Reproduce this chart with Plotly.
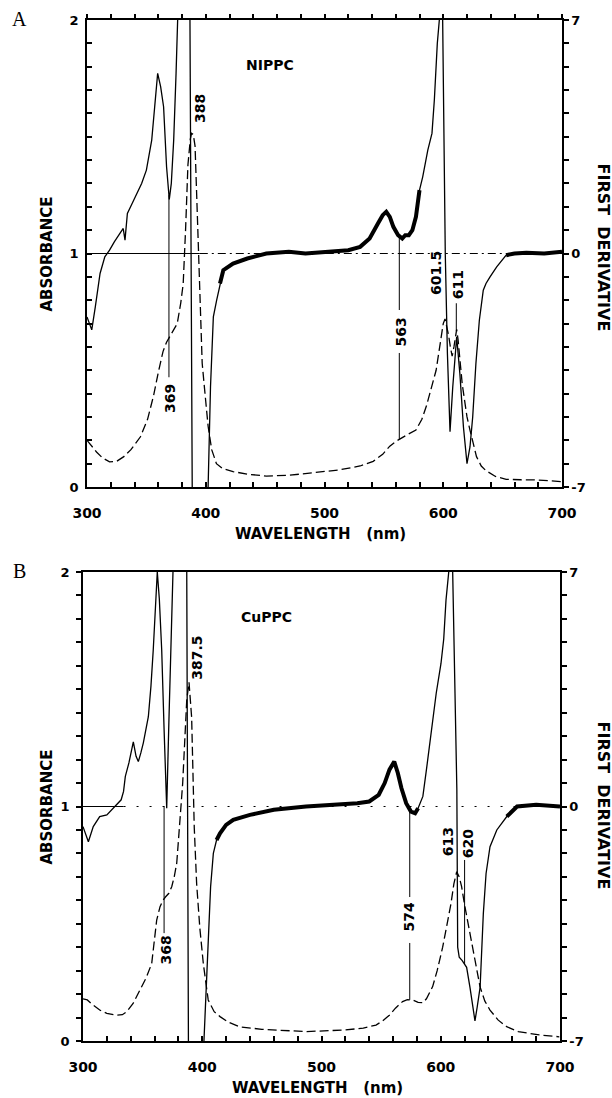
import numpy as np
import plotly.graph_objects as go

W, H = 612, 1098

# ---------------- NiPPC (panel A) ----------------
nippc_abs_nm = [300, 304, 308, 313, 319, 325, 331, 337, 345, 351, 356, 360, 364, 367, 370,
                373, 376, 379, 381, 383, 385, 387, 388, 389.5, 391, 392.5, 394, 395.5, 397,
                399, 402, 405, 409, 414, 423, 435, 451, 470, 490, 512, 530, 541, 549, 555,
                560, 564, 570, 577, 582, 586, 590, 594, 597, 600, 601.5, 603, 604.5, 606,
                607.5, 609, 610.3, 611.3, 612.5, 614, 616, 618, 620, 622.5, 625, 628, 632,
                636, 644, 653, 665, 680, 700]
nippc_abs = [0.20, 0.175, 0.15, 0.125, 0.108, 0.11, 0.13, 0.16, 0.215, 0.29, 0.39, 0.49, 0.58,
             0.62, 0.645, 0.67, 0.70, 0.79, 0.87, 1.10, 1.38, 1.49, 1.515, 1.51, 1.46, 1.23,
             0.96, 0.72, 0.53, 0.42, 0.26, 0.16, 0.10, 0.08, 0.066, 0.055, 0.047, 0.05, 0.06,
             0.073, 0.09, 0.11, 0.14, 0.175, 0.195, 0.208, 0.225, 0.244, 0.29, 0.35, 0.42,
             0.50, 0.60, 0.70, 0.72, 0.69, 0.65, 0.60, 0.56, 0.60, 0.65, 0.675, 0.63, 0.55,
             0.44, 0.37, 0.30, 0.244, 0.19, 0.13, 0.09, 0.07, 0.045, 0.033, 0.031, 0.030, 0.023]

nippc_der_nm = [300, 302, 304, 307, 311, 315, 319, 323, 327, 330.5, 332, 334, 338, 342, 346,
                350, 354.5, 357, 359.5, 362, 364.5, 367, 369.3, 371, 373, 375, 376.4, 378, 385,
                386.7, 388.6, 390, 400, 402, 404, 406.4, 409.2, 412, 414.8, 423, 435, 451, 470,
                484, 500, 520, 530, 538, 545, 549, 552, 555, 558, 562, 565.5, 568, 571, 574,
                577, 580, 582.7, 587, 590.5, 592.5, 595, 596.7, 598, 599.5, 601.7, 603.5, 605.7,
                608, 611.3, 614, 617, 620, 622.5, 624.8, 627.5, 630.4, 633.7, 636, 639.4, 645,
                653, 660, 670, 685, 700]
nippc_der = [-1.9, -2.1, -2.29, -1.6, -0.6, -0.1, 0.1, 0.35, 0.55, 0.75, 0.4, 1.2, 1.5, 1.8, 2.1,
             2.5, 3.4, 4.4, 5.4, 5.0, 4.4, 2.6, 1.62, 2.1, 3.4, 5.4, 7.0, 9.0, 9.0,
             7.0, -7.0, -9.0, -9.0, -7.0, -4.0, -1.9, -1.4, -0.9, -0.5, -0.3, -0.15, 0.0, 0.05,
             0.0, 0.05, 0.1, 0.2, 0.45, 0.9, 1.15, 1.25, 1.1, 0.8, 0.55, 0.45, 0.55, 0.55, 0.7,
             1.1, 1.9, 2.3, 3.1, 3.6, 4.6, 6.3, 7.0, 9.0, 7.0, 0.0, -3.0, -5.34,
             -4.0, -2.5, -3.6, -5.2, -6.3, -5.8, -4.9, -3.3, -2.0, -1.1, -0.9, -0.7, -0.4,
             -0.05, 0.0, 0.02, 0.0, 0.05]

# ---------------- CuPPC (panel B) ----------------
cuppc_abs_nm = [300, 303.6, 308, 314, 320, 328, 333, 336.6, 342, 347.8, 353, 357.6, 360, 361.8,
                364.6, 367, 369.3, 372, 374.4, 376.5, 378.6, 380, 381.3, 383.6, 385.5, 387,
                388.9, 391.1, 393.3, 395.3, 398, 400.9, 405, 410, 414.9, 422, 431.7, 450, 487,
                520, 535, 545.7, 551, 556.9, 562, 568, 572, 576.5, 581, 584.9, 588, 593.2, 597,
                601.6, 605, 608.6, 611, 613.4, 615.5, 617.5, 620, 623, 626, 628.7, 633, 637,
                641.3, 648, 655.3, 665, 682.6, 699.4]
cuppc_abs = [0.18, 0.175, 0.155, 0.132, 0.118, 0.11, 0.112, 0.125, 0.16, 0.217, 0.27, 0.33,
             0.43, 0.516, 0.573, 0.60, 0.615, 0.63, 0.658, 0.70, 0.758, 0.84, 0.942, 1.10, 1.30,
             1.454, 1.53, 1.38, 0.91, 0.67, 0.48, 0.33, 0.175, 0.125, 0.104, 0.08, 0.06, 0.05,
             0.04, 0.047, 0.055, 0.068, 0.085, 0.11, 0.14, 0.168, 0.176, 0.175, 0.165, 0.163,
             0.18, 0.232, 0.30, 0.40, 0.49, 0.587, 0.67, 0.722, 0.70, 0.658, 0.58, 0.50, 0.42,
             0.345, 0.23, 0.17, 0.132, 0.09, 0.061, 0.04, 0.026, 0.018]

cuppc_der_nm = [300, 304.5, 308.6, 314, 320, 327, 332, 334, 335.5, 338.5, 342.2, 344.5, 346.4,
                348.5, 350.6, 354.8, 357, 358.9, 361, 362.3, 364, 366, 368, 370.2, 372, 374,
                375.7, 377, 385, 387, 388.4, 390, 399, 401.5, 403, 405, 407, 409.3, 412, 414.9,
                420, 426, 440, 460, 487, 510, 530, 540, 548, 553, 557, 561, 564, 567, 571, 575,
                578.5, 581, 585, 588, 592, 596.2, 600.2, 602.5, 604.4, 606.7, 608, 609, 610,
                612, 613.5, 614.2, 615.5, 618, 621.7, 624.5, 627, 628.7, 630.5, 633, 635.7, 638,
                641.3, 647, 655.4, 664, 680, 700]
cuppc_der = [-0.6, -1.05, -0.6, -0.3, -0.25, 0.0, 0.2, 0.45, 0.9, 1.3, 1.93, 1.5, 1.34,
             1.6, 1.9, 2.68, 3.6, 4.67, 6.3, 7.0, 6.2, 4.67, 2.3, -0.05, 2.5, 5.0,
             7.0, 9.0, 9.0, 7.0, -7.0, -9.0, -9.0, -7.0, -5.5, -3.9, -2.4, -1.4, -1.0, -0.8,
             -0.55, -0.4, -0.25, -0.1, 0.0, 0.05, 0.1, 0.15, 0.35, 0.7, 1.1, 1.34, 1.0, 0.55, 0.1,
             -0.15, -0.2, -0.05, 0.3, 1.1, 2.2, 3.38, 4.27, 5.0, 6.16, 7.0, 9.0, 9.0, 7.0,
             3.5, 0.5, -4.2, -4.5, -4.6, -4.8, -5.4, -6.1, -6.4, -6.0, -5.4, -3.2, -2.0,
             -1.2, -0.7, -0.3, 0.0, 0.05, 0.0]

# Peak labels (wavelengths in nm)
nippc_peaks = ["369", "388", "563", "601.5", "611"]
cuppc_peaks = ["368", "387.5", "574", "613", "620"]

# Axis ticks: every tick position, labelled only at the listed values
x_tick_pos = list(range(300, 701, 20))
x_tick_labels = {300: "300", 400: "400", 500: "500", 600: "600", 700: "700"}
abs_tick_pos = [round(v, 1) for v in np.arange(0, 2.01, 0.1)]
abs_tick_labels = {0.0: "0", 1.0: "1", 2.0: "2"}
der_tick_pos = [round(v, 1) for v in np.arange(-7, 7.01, 0.7)]
der_tick_labels = {-7.0: "-7", 0.0: "0", 7.0: "7"}

# ---------------- placement / styling ----------------
FONT = "DejaVu Sans"
INK = "black"

# label layout: text x offset (nm), text centre (absorbance units),
# leader segments (ends: number, "der" = derivative curve, "abs" = absorbance curve)
nippc_label_layout = {
    "369": (0.8, 0.381, [("der", 0.47)]),
    "388": (6.6, 1.62, []),
    "563": (1.8, 0.664, [("der", 0.758), (0.574, "abs")]),
    "601.5": (-7.0, 0.915, []),
    "611": (1.7, 0.865, [(0.787, "abs")]),
}
cuppc_label_layout = {
    "368": (2.0, 0.388, [(1.0, 0.46)]),
    "387.5": (7.8, 1.633, []),
    "574": (-1.0, 0.529, [("der", 0.614), (0.418, "abs")]),
    "613": (-6.7, 0.849, []),
    "620": (3.1, 0.84, [(0.772, "der")]),
}

# panels: plot-area boxes in pixels (left, right, top, bottom)
panels = [
    dict(name="NIPPC", letter="A", box=(87, 562, 20, 487), right_title_dy=-6,
         abs_nm=nippc_abs_nm, abs_v=nippc_abs, der_nm=nippc_der_nm, der_v=nippc_der,
         peaks=nippc_peaks, layout=nippc_label_layout,
         noisy=[(410, 580), (646, 700)],
         ref_solid=[(300, 395)], ref_dash=[(395, 700)], ref_dash_style="8px,4px,2px,4px",
         left_ticks="inside", xa="x", ya="y", ya2="y2"),
    dict(name="CuPPC", letter="B", box=(83, 560, 572, 1041), right_title_dy=-1,
         abs_nm=cuppc_abs_nm, abs_v=cuppc_abs, der_nm=cuppc_der_nm, der_v=cuppc_der,
         peaks=cuppc_peaks, layout=cuppc_label_layout,
         noisy=[(410, 583), (652, 700)],
         ref_solid=[(300, 334)], ref_dash=[(334, 700)], ref_dash_style="2px,11px",
         left_ticks="outside", xa="x2", ya="y3", ya2="y4"),
]


def der_to_abs(d):
    # right axis (-7..7) shares the plot height with left axis (0..2)
    return 1.0 + np.asarray(d, dtype=float) / 7.0


def tick_text(pos, labels):
    return [labels.get(v, "") for v in pos]


fig = go.Figure()
annotations = []

for i, p in enumerate(panels):
    abs_nm = np.array(p["abs_nm"], dtype=float)
    abs_v = np.array(p["abs_v"], dtype=float)
    der_nm = np.array(p["der_nm"], dtype=float)
    der_v = np.array(p["der_v"], dtype=float)

    # horizontal reference at zero derivative
    for a, b in p["ref_solid"]:
        fig.add_trace(go.Scatter(x=[a, b], y=[0, 0], xaxis=p["xa"], yaxis=p["ya2"],
                                 mode="lines", line=dict(color=INK, width=1), hoverinfo="skip"))
    for a, b in p["ref_dash"]:
        fig.add_trace(go.Scatter(x=[a, b], y=[0, 0], xaxis=p["xa"], yaxis=p["ya2"],
                                 mode="lines", line=dict(color=INK, width=1, dash=p["ref_dash_style"]),
                                 hoverinfo="skip"))

    # absorbance spectrum (dashed)
    fig.add_trace(go.Scatter(x=abs_nm, y=abs_v, xaxis=p["xa"], yaxis=p["ya"], mode="lines",
                             line=dict(color=INK, width=1.3, dash="9px,4px"), hoverinfo="skip"))

    # first derivative (solid), thicker where the trace is noisy
    fig.add_trace(go.Scatter(x=der_nm, y=der_v, xaxis=p["xa"], yaxis=p["ya2"], mode="lines",
                             line=dict(color=INK, width=1.3), hoverinfo="skip"))
    for a, b in p["noisy"]:
        m = (der_nm >= a) & (der_nm <= b)
        fig.add_trace(go.Scatter(x=der_nm[m], y=der_v[m], xaxis=p["xa"], yaxis=p["ya2"],
                                 mode="lines", line=dict(color=INK, width=4), hoverinfo="skip"))

    # peak labels and leader lines
    for lab in p["peaks"]:
        wl = float(lab)
        dx, ytxt, segs = p["layout"][lab]
        for s0, s1 in segs:
            ends = []
            for e in (s0, s1):
                if e == "der":
                    ends.append(float(der_to_abs(np.interp(wl, der_nm, der_v))))
                elif e == "abs":
                    ends.append(float(np.interp(wl, abs_nm, abs_v)))
                else:
                    ends.append(float(e))
            fig.add_trace(go.Scatter(x=[wl, wl], y=ends, xaxis=p["xa"], yaxis=p["ya"],
                                     mode="lines", line=dict(color=INK, width=1), hoverinfo="skip"))
        annotations.append(dict(x=wl + dx, y=ytxt, xref=p["xa"], yref=p["ya"], text=lab,
                                textangle=-90, showarrow=False,
                                font=dict(family=FONT, size=14, color=INK, weight="bold"),
                                xanchor="center", yanchor="middle"))

    l, r, t, b = p["box"]
    xc = (l + r) / 2
    yc = (t + b) / 2
    # compound name
    annotations.append(dict(x=(l + 183) / W, y=1 - (t + 45) / H, xref="paper", yref="paper",
                            text=p["name"], showarrow=False,
                            font=dict(family=FONT, size=14, color=INK, weight="bold"),
                            xanchor="center", yanchor="middle"))
    # panel letter
    annotations.append(dict(x=19 / W, y=1 - (t - 1) / H, xref="paper", yref="paper",
                            text=p["letter"], showarrow=False,
                            font=dict(family="Liberation Serif", size=20, color=INK),
                            xanchor="center", yanchor="middle"))
    # axis titles
    annotations.append(dict(x=46 / W, y=1 - (yc + 1) / H, xref="paper", yref="paper",
                            text="ABSORBANCE", textangle=-90, showarrow=False,
                            font=dict(family=FONT, size=15, color=INK, weight="bold"),
                            xanchor="center", yanchor="middle"))
    annotations.append(dict(x=603 / W, y=1 - (yc + p["right_title_dy"]) / H,
                            xref="paper", yref="paper",
                            text="FIRST\u00a0\u00a0DERIVATIVE", textangle=90, showarrow=False,
                            font=dict(family=FONT, size=16, color=INK, weight="bold"),
                            xanchor="center", yanchor="middle"))
    annotations.append(dict(x=(xc - 4) / W, y=1 - (b + 47) / H, xref="paper", yref="paper",
                            text="WAVELENGTH\u00a0\u00a0\u00a0(nm)", showarrow=False,
                            font=dict(family=FONT, size=15, color=INK, weight="bold"),
                            xanchor="center", yanchor="middle"))

# ---------------- axes ----------------
axis_common = dict(showgrid=False, zeroline=False, showline=True, linecolor=INK, linewidth=1.5,
                   ticklen=5, tickwidth=1.5, tickcolor=INK, automargin=False, tickmode="array")
layout_axes = {}
for i, p in enumerate(panels):
    l, r, t, b = p["box"]
    xdom = [l / W, r / W]
    ydom = [1 - b / H, 1 - t / H]
    xkey = "xaxis" if p["xa"] == "x" else "xaxis" + p["xa"][1:]
    ykey = "yaxis" if p["ya"] == "y" else "yaxis" + p["ya"][1:]
    y2key = "yaxis" + p["ya2"][1:]
    layout_axes[xkey] = dict(axis_common, domain=xdom, anchor=p["ya"], range=[300, 700],
                             tickvals=x_tick_pos, ticktext=tick_text(x_tick_pos, x_tick_labels),
                             ticks="inside", mirror=True, ticklabelstandoff=12,
                             tickfont=dict(family=FONT, size=14, color=INK, weight="bold"))
    layout_axes[ykey] = dict(axis_common, domain=ydom, anchor=p["xa"], range=[0, 2],
                             tickvals=abs_tick_pos,
                             ticktext=tick_text(abs_tick_pos, abs_tick_labels),
                             ticks=p["left_ticks"], ticklabelstandoff=4,
                             tickfont=dict(family=FONT, size=13, color=INK, weight="bold"))
    layout_axes[y2key] = dict(axis_common, overlaying=p["ya"], anchor=p["xa"], side="right",
                              range=[-7, 7], tickvals=der_tick_pos,
                              ticktext=tick_text(der_tick_pos, der_tick_labels),
                              ticks="outside",
                              tickfont=dict(family=FONT, size=13, color=INK, weight="bold"))

# top tick row for panel A
layout_axes["xaxis3"] = dict(overlaying="x", anchor="y", side="top", range=[300, 700],
                             showgrid=False, zeroline=False, showline=False, automargin=False,
                             showticklabels=False, tickmode="array", tickvals=x_tick_pos,
                             ticks="outside", ticklen=5, tickwidth=1.5, tickcolor=INK)
fig.add_trace(go.Scatter(x=[300, 700], y=[None, None], xaxis="x3", yaxis="y",
                         mode="lines", showlegend=False, hoverinfo="skip"))

fig.update_layout(template="none", width=W, height=H, margin=dict(l=0, r=0, t=0, b=0),
                  paper_bgcolor="white", plot_bgcolor="white", showlegend=False,
                  annotations=annotations, **layout_axes)

fig.write_html("out.html")
